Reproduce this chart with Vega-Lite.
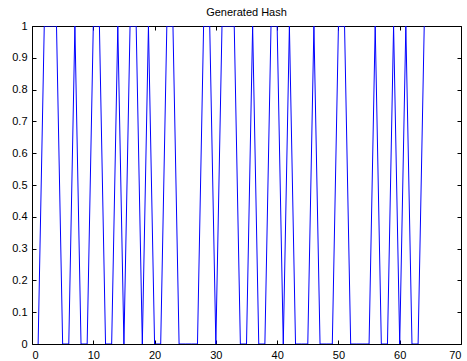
{
  "$schema": "https://vega.github.io/schema/vega-lite/v6.json",
  "width": 429,
  "height": 318,
  "autosize": {"type": "none"},
  "padding": {"left": 32, "top": 26, "right": 6, "bottom": 17},
  "background": "white",
  "title": {"text": "Generated Hash", "fontSize": 11, "fontWeight": "normal", "font": "Liberation Sans", "color": "black", "offset": 2},
  "config": {
    "view": {"stroke": "black", "strokeWidth": 1},
    "axis": {"grid": false, "domain": false, "tickColor": "black", "labelColor": "black", "labelFont": "Liberation Sans", "labelFontSize": 11, "title": null, "tickSize": -4}
  },
  "data": {"values": [
    {"i":1,"v":0},{"i":2,"v":1},{"i":3,"v":1},{"i":4,"v":1},{"i":5,"v":0},{"i":6,"v":0},{"i":7,"v":1},{"i":8,"v":0},
    {"i":9,"v":0},{"i":10,"v":1},{"i":11,"v":1},{"i":12,"v":0},{"i":13,"v":0},{"i":14,"v":1},{"i":15,"v":0},{"i":16,"v":1},
    {"i":17,"v":1},{"i":18,"v":0},{"i":19,"v":1},{"i":20,"v":0},{"i":21,"v":0},{"i":22,"v":1},{"i":23,"v":1},{"i":24,"v":0},
    {"i":25,"v":0},{"i":26,"v":0},{"i":27,"v":0},{"i":28,"v":1},{"i":29,"v":1},{"i":30,"v":0},{"i":31,"v":1},{"i":32,"v":1},
    {"i":33,"v":1},{"i":34,"v":0},{"i":35,"v":0},{"i":36,"v":1},{"i":37,"v":0},{"i":38,"v":0},{"i":39,"v":1},{"i":40,"v":1},
    {"i":41,"v":0},{"i":42,"v":1},{"i":43,"v":0},{"i":44,"v":0},{"i":45,"v":0},{"i":46,"v":1},{"i":47,"v":0},{"i":48,"v":0},
    {"i":49,"v":0},{"i":50,"v":1},{"i":51,"v":1},{"i":52,"v":0},{"i":53,"v":0},{"i":54,"v":0},{"i":55,"v":0},{"i":56,"v":1},
    {"i":57,"v":0},{"i":58,"v":0},{"i":59,"v":1},{"i":60,"v":0},{"i":61,"v":1},{"i":62,"v":0},{"i":63,"v":0},{"i":64,"v":1}
  ]},
  "layer": [
    {
      "mark": {"type": "point", "opacity": 0, "size": 0},
      "encoding": {
        "x": {"field": "i", "type": "quantitative", "scale": {"domain": [0, 70], "nice": false, "zero": false},
              "axis": {"orient": "top", "tickCount": 7, "labels": false}},
        "y": {"field": "v", "type": "quantitative", "scale": {"domain": [0, 1], "nice": false},
              "axis": {"orient": "right", "tickCount": 10, "labels": false}}
      }
    },
    {
      "mark": {"type": "line", "color": "#0000ff", "strokeWidth": 1, "clip": true},
      "encoding": {
        "x": {"field": "i", "type": "quantitative",
              "axis": {"orient": "bottom", "tickCount": 7, "labelPadding": 9}},
        "y": {"field": "v", "type": "quantitative",
              "axis": {"orient": "left", "tickCount": 10, "format": "~g", "labelPadding": 9}}
      }
    }
  ],
  "resolve": {"axis": {"x": "independent", "y": "independent"}}
}
